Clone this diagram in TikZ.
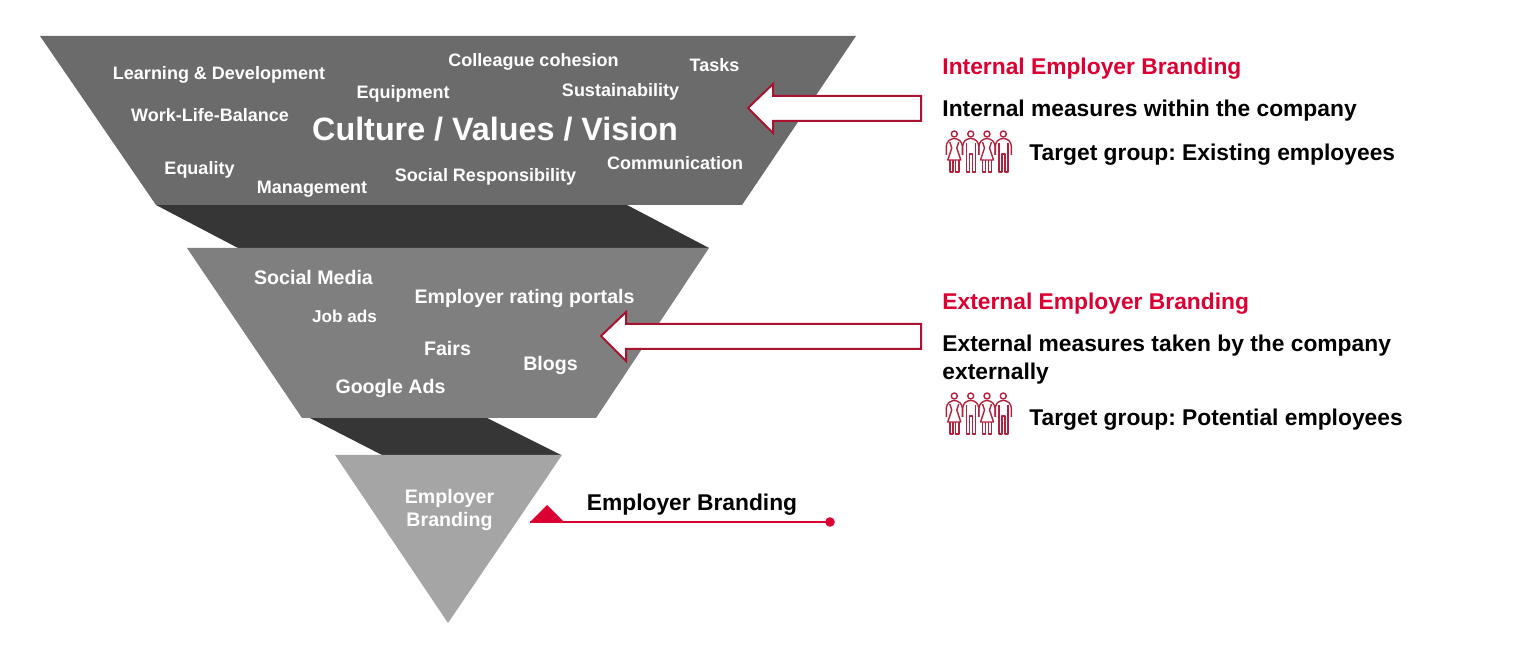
\documentclass[tikz,border=0pt]{standalone}
\usepackage{xcolor}
\usepackage{fontspec}
\setmainfont{Liberation Sans}
\usepackage{tikz}
\usetikzlibrary{positioning}
\frenchspacing

\definecolor{brandred}{HTML}{DC0032}
\definecolor{arrowred}{HTML}{A8142F}
\definecolor{iconred}{HTML}{B2223C}
\definecolor{topgray}{HTML}{6B6B6B}
\definecolor{midgray}{HTML}{7F7F7F}
\definecolor{lowgray}{HTML}{A5A5A5}
\definecolor{darkband}{HTML}{363636}

\tikzset{
    funnel/.style={draw=none, fill=#1},
    band/.style={draw=none, fill=darkband},
    word/.style={text=white, font=\bfseries\fontsize{9}{11}\selectfont, inner sep=0pt},
    midword/.style={word, font=\bfseries\fontsize{9.8}{11.5}\selectfont},
    bigword/.style={word, font=\bfseries\fontsize{16.15}{19}\selectfont},
    heading/.style={text=brandred, anchor=west, inner sep=0pt, font=\bfseries\fontsize{11.4}{14}\selectfont},
    remark/.style={text=black, anchor=west, inner sep=0pt, font=\bfseries\fontsize{11.4}{14}\selectfont},
    hollowarrow/.style={draw=arrowred, fill=white, line width=1pt, line join=miter},
    figline/.style={iconred, line width=0.7pt, line join=round},
    womanfig/.pic={
        \draw[figline] (0,0) circle (3);
        \draw[figline, rounded corners=1.5pt]
            (-8,21) -- (-8,9) -- (-3,4.5) -- (3,4.5) -- (8,9) -- (8,21);
        \draw[figline]
            (-4.5,8) -- (-2.5,14) -- (-6.5,26) -- (6.5,26) -- (2.5,14) -- (4.5,8);
        \draw[figline]
            (-4.5,26) -- (-4.5,38) -- (-1.3,38) -- (-1.3,26) (1.3,26) -- (1.3,38) -- (4.5,38) -- (4.5,26);
    },
    manfig/.pic={
        \draw[figline] (0,0) circle (3);
        \draw[figline, rounded corners=1.5pt]
            (-8,21) -- (-8,9) -- (-3.5,4.5) -- (3.5,4.5) -- (8,9) -- (8,21);
        \draw[figline]
            (-4.5,9) -- (-4.5,38) -- (-1.5,38) -- (-1.5,20) -- (1.5,20) -- (1.5,38) -- (4.5,38) -- (4.5,9);
    },
    crewicon/.pic={
        \pic at (0,0) {womanfig};
        \pic at (16.4,0) {manfig};
        \pic at (32.7,0) {womanfig};
        \pic at (49,0) {manfig};
    },
}

\begin{document}
\begin{tikzpicture}[x=0.5pt, y=-0.5pt]
    \useasboundingbox (0,0) rectangle (1536,651);

    % Dark bands between the levels
    \draw[band] (156,205) -- (627,205) -- (709,248) -- (238,248) -- cycle;
    \draw[band] (310,418) -- (487,418) -- (561,455) -- (382,455) -- cycle;

    % Funnel levels
    \draw[funnel=topgray] (40,36) -- (856,36) -- (742,205) -- (156,205) -- cycle;
    \draw[funnel=midgray] (187,248) -- (709,248) -- (596,418) -- (302,418) -- cycle;
    \draw[funnel=lowgray] (335,455) -- (562,455) -- (448,623) -- cycle;

    % Top level
    \node[word] (learning) at (219,75) {Learning \& Development};
    \node[word] (cohesion) at (533.5,62) {Colleague cohesion};
    \node[word] (tasks) at (714.5,65) {Tasks};
    \node[word] (equipment) at (403,94) {Equipment};
    \node[word] (sustain) at (620.5,92) {Sustainability};
    \node[word] (balance) at (210,115) {Work-Life-Balance};
    \node[bigword] (culture) at (495,129) {Culture / Values / Vision};
    \node[word] (equality) at (199.5,170) {Equality};
    \node[word] (management) at (312,189) {Management};
    \node[word] (social) at (485.5,177) {Social Responsibility};
    \node[word] (communication) at (675,163) {Communication};

    % Middle level
    \node[midword] (media) at (313.5,277) {Social Media};
    \node[midword] (portals) at (524.5,298.5) {Employer rating portals};
    \node[word, font=\bfseries\fontsize{8.6}{11}\selectfont] (jobads) at (344.5,316) {Job ads};
    \node[midword] (fairs) at (447.5,348) {Fairs};
    \node[midword] (blogs) at (550.5,365) {Blogs};
    \node[midword] (google) at (390.5,388) {Google Ads};

    % Bottom level
    \node[midword, align=center] (core) at (449.5,510) {Employer\\Branding};

    % Block arrows
    \draw[hollowarrow] (921,96) -- (773,96) -- (773,84) -- (748,108) -- (773,133) -- (773,121) -- (921,121) -- cycle;
    \draw[hollowarrow] (921,324) -- (626,324) -- (626,312) -- (601,336) -- (626,361) -- (626,349) -- (921,349) -- cycle;

    % Internal text
    \node[heading] (inthead) at (942,69) {Internal Employer Branding};
    \node[remark] (inttext) at (942,111) {Internal measures within the company};
    \pic at (954.3,134) {crewicon};
    \node[remark] (intgroup) at (1029,155) {Target group: Existing employees};

    % External text
    \node[heading] (exthead) at (942,304) {External Employer Branding};
    \node[remark] (exttext) at (942,346) {External measures taken by the company};
    \node[remark] (exttextb) at (942,374) {externally};
    \pic at (954.3,396) {crewicon};
    \node[remark] (extgroup) at (1029,420) {Target group: Potential employees};

    % Marker
    \coordinate (markleft) at (530,522);
    \coordinate (marktop) at (547,505);
    \coordinate (markright) at (564,522);
    \coordinate (markend) at (830,522);
    \fill[brandred] (markleft) -- (marktop) -- (markright) -- cycle;
    \draw[brandred, line width=1pt] (markleft) -- (markend);
    \fill[brandred] (markend) circle (4.8);
    \node[remark, anchor=center] (markname) at (692,505) {Employer Branding};
\end{tikzpicture}
\end{document}
